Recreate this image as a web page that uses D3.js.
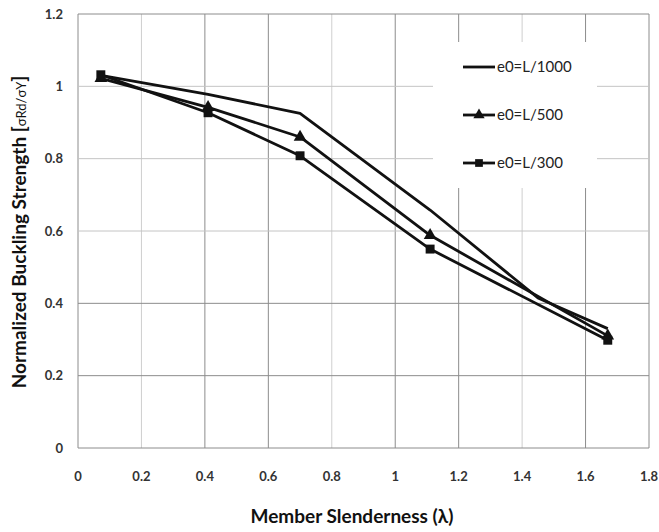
<!DOCTYPE html>
<html><head><meta charset="utf-8">
<script src="https://cdn.jsdelivr.net/npm/d3@7"></script>
<style>body{margin:0;background:#fff}</style>
</head><body>
<script>
const slenderness = [0.072, 0.41, 0.70, 1.11, 1.67];
const slendernessL1000 = [0.072, 0.41, 0.70, 1.11, 1.45, 1.67];
const seriesNames = ["e0=L/1000", "e0=L/500", "e0=L/300"];
const seriesMarkers = ["none", "triangle", "square"];
const valuesL1000 = [1.03, 0.978, 0.925, 0.658, 0.415, 0.33];
const valuesL500 = [1.022, 0.942, 0.86, 0.588, 0.31];
const valuesL300 = [1.032, 0.927, 0.808, 0.55, 0.298];
const xTicks = [0, 0.2, 0.4, 0.6, 0.8, 1, 1.2, 1.4, 1.6, 1.8];
const yTicks = [0, 0.2, 0.4, 0.6, 0.8, 1, 1.2];

const W = 659, H = 532;
const svg = d3.select("body").append("svg").attr("width", W).attr("height", H);
const x = d3.scaleLinear().domain([0, 1.8]).range([78, 649]);
const y = d3.scaleLinear().domain([0, 1.2]).range([448, 14]);
const font = "Lato, 'Open Sans', sans-serif";

// grid (scan-like uneven grey tones)
const lightX = new Set([0.2, 0.8, 1.4]);
const lightY = new Set([0.6, 0.8, 1]);
svg.append("g").selectAll("line").data(xTicks).join("line")
  .attr("x1", d => x(d)).attr("x2", d => x(d)).attr("y1", y(0)).attr("y2", y(1.2))
  .attr("stroke", d => lightX.has(d) ? "#cfcfcf" : "#8c8c8c").attr("stroke-width", 1);
svg.append("g").selectAll("line").data(yTicks).join("line")
  .attr("x1", x(0)).attr("x2", x(1.8)).attr("y1", d => y(d)).attr("y2", d => y(d))
  .attr("stroke", d => lightY.has(d) ? "#c4c4c4" : "#8c8c8c").attr("stroke-width", 1);

// legend background
svg.append("rect").attr("x", 433).attr("y", 42).attr("width", 164).attr("height", 146).attr("fill", "#fff");

// tick labels
svg.append("g").selectAll("text").data(xTicks).join("text")
  .attr("x", d => x(d)).attr("y", 481).attr("text-anchor", "middle")
  .attr("font-family", font).attr("font-weight", "bold").attr("font-size", 13).attr("fill", "#333")
  .text(d => d3.format("~g")(d));
svg.append("g").selectAll("text").data(yTicks).join("text")
  .attr("x", 63).attr("y", d => y(d) + 4.5).attr("text-anchor", "end")
  .attr("font-family", font).attr("font-weight", "bold").attr("font-size", 13).attr("fill", "#333")
  .text(d => d3.format("~g")(d));

// axis titles
svg.append("text").attr("x", 352).attr("y", 523).attr("text-anchor", "middle")
  .attr("font-family", font).attr("font-weight", "bold").attr("font-size", 19).attr("fill", "#111")
  .text("Member Slenderness (λ)");
const yt = svg.append("text").attr("transform", "translate(26,232) rotate(-90)").attr("text-anchor", "middle")
  .attr("font-family", font).attr("font-weight", "bold").attr("font-size", 19).attr("fill", "#111");
yt.append("tspan").text("Normalized Buckling Strength [");
yt.append("tspan").attr("font-size", 13).attr("font-weight", "normal").text("σRd/σY");
yt.append("tspan").text("]");

// series
const allSeries = [
  slendernessL1000.map((s, j) => [s, valuesL1000[j]]),
  slenderness.map((s, j) => [s, valuesL500[j]]),
  slenderness.map((s, j) => [s, valuesL300[j]])
];
const line = d3.line().x(d => x(d[0])).y(d => y(d[1]));
const sym = {triangle: d3.symbolTriangle, square: d3.symbolSquare};
allSeries.forEach((pts, i) => {
  svg.append("path").datum(pts).attr("d", line).attr("fill", "none")
    .attr("stroke", "#111").attr("stroke-width", 2.8).attr("stroke-linejoin", "round");
  if (seriesMarkers[i] !== "none") {
    svg.append("g").selectAll("path").data(pts).join("path")
      .attr("transform", d => `translate(${x(d[0])},${y(d[1])})`)
      .attr("d", d3.symbol().type(sym[seriesMarkers[i]]).size(seriesMarkers[i] === "square" ? 80 : 70))
      .attr("fill", "#111");
  }
});

// legend
seriesNames.forEach((n, i) => {
  const ly = 67 + i * 48;
  svg.append("line").attr("x1", 463).attr("x2", 495).attr("y1", ly).attr("y2", ly)
    .attr("stroke", "#111").attr("stroke-width", 2.8);
  if (seriesMarkers[i] !== "none") {
    svg.append("path").attr("transform", `translate(479,${ly})`)
      .attr("d", d3.symbol().type(sym[seriesMarkers[i]]).size(seriesMarkers[i] === "square" ? 60 : 55))
      .attr("fill", "#111");
  }
  svg.append("text").attr("x", 497).attr("y", ly + 5).attr("font-family", font)
    .attr("font-size", 15).attr("fill", "#222").text(n);
});
</script>
</body></html>
